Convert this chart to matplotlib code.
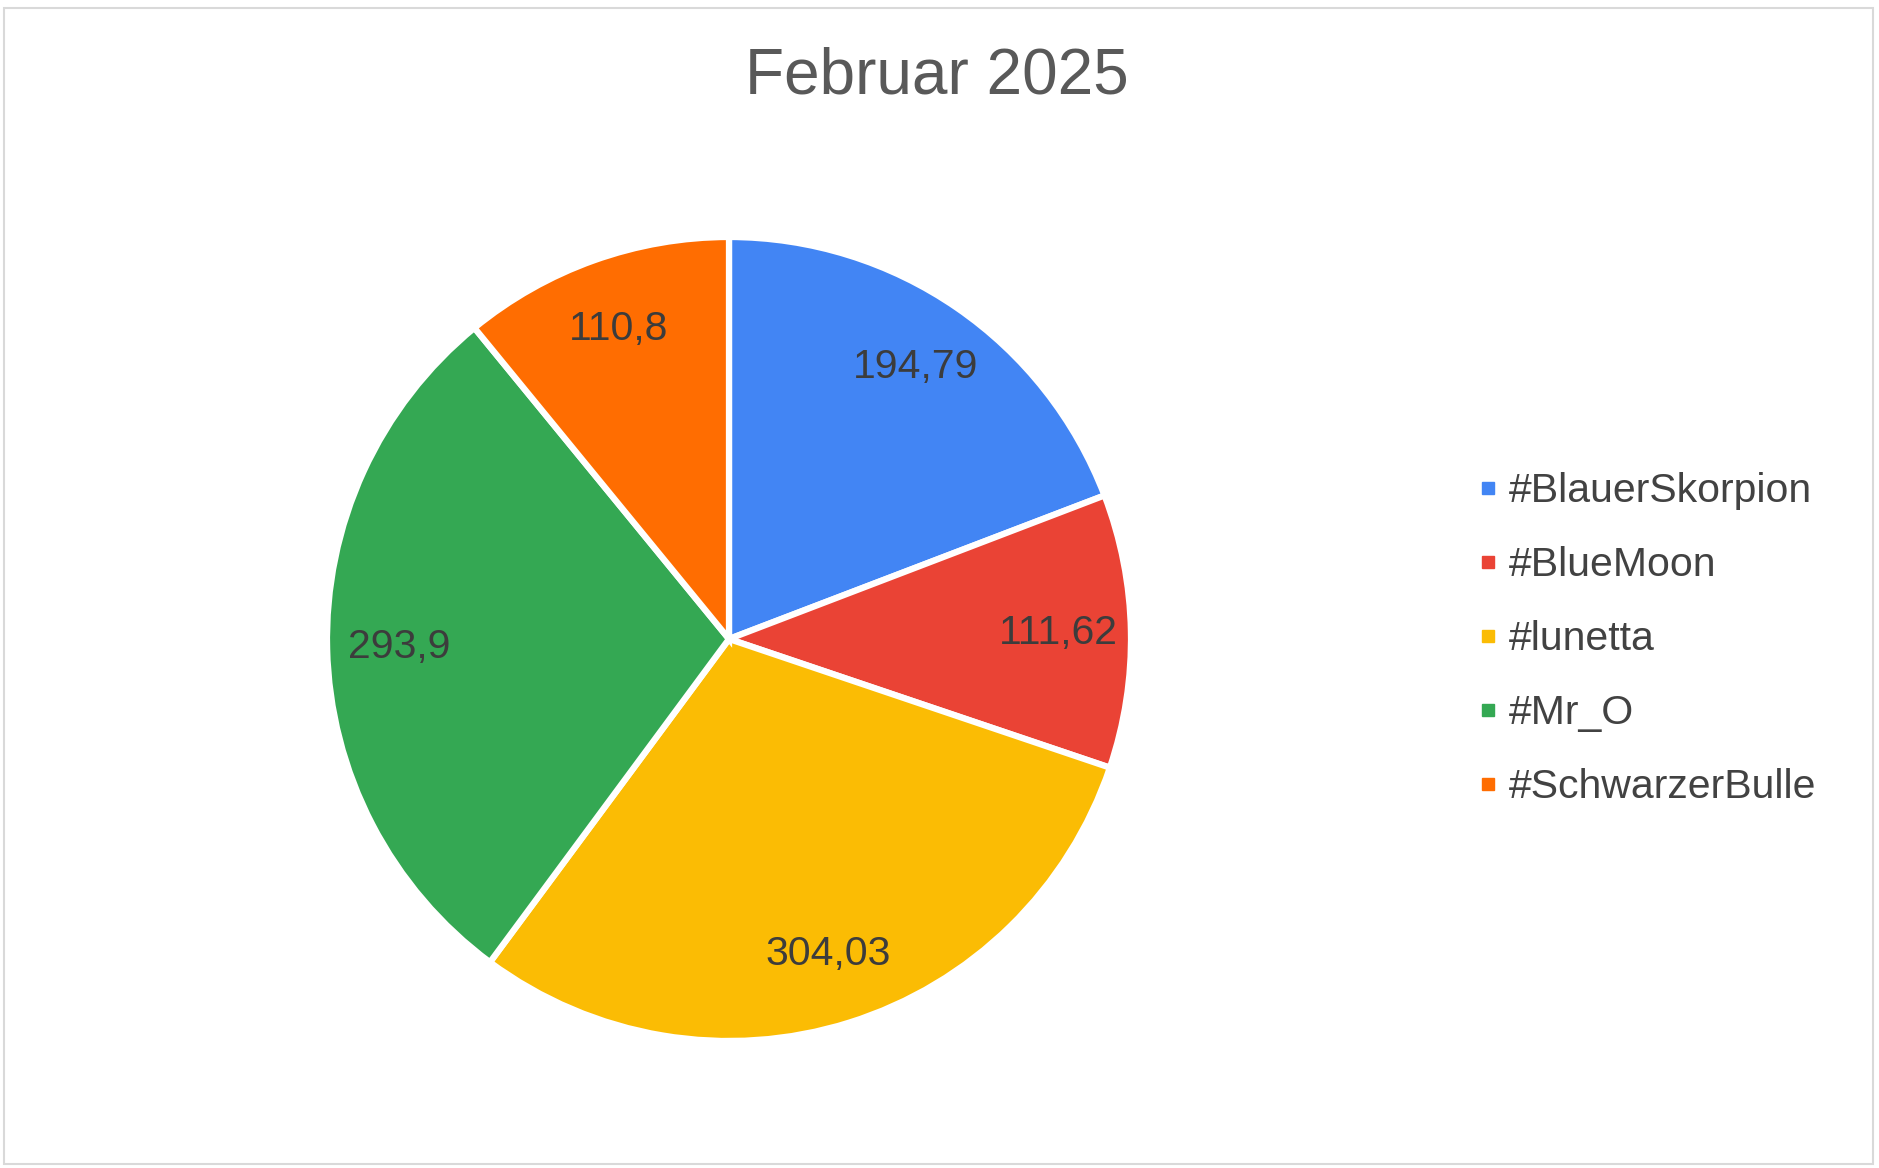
import matplotlib
matplotlib.use("Agg")
import matplotlib.pyplot as plt
from matplotlib.lines import Line2D
from matplotlib.patches import Rectangle

plt.rcParams['font.family'] = ['Liberation Sans', 'DejaVu Sans']

title = "Februar 2025"
names = ["#BlauerSkorpion", "#BlueMoon", "#lunetta", "#Mr_O", "#SchwarzerBulle"]
values = [194.79, 111.62, 304.03, 293.9, 110.8]
labels = ["194,79", "111,62", "304,03", "293,9", "110,8"]
colors = ["#4285F4", "#EA4335", "#FBBC04", "#34A853", "#FF6D01"]

W, H = 1879, 1168
fig = plt.figure(figsize=(W / 100, H / 100), dpi=100)

# pie: center (729, 639) px, radius ~402 px
cx, cy, r = 729, 639, 402
ax = fig.add_axes([(cx - r) / W, (H - cy - r) / H, 2 * r / W, 2 * r / H])
wedges, texts = ax.pie(values, colors=colors, startangle=90, counterclock=False,
                       labels=labels, labeldistance=0.82,
                       wedgeprops=dict(edgecolor='white', linewidth=4.5),
                       textprops=dict(fontsize=29.5, color='#3c3c3c',
                                      ha='center', va='center'))
for t in texts:
    t.set_ha('center')
    t.set_va('center')
ax.set_xlim(-1, 1)
ax.set_ylim(-1, 1)
ax.set_aspect('equal')

fig.text(937 / W, 1 - 76 / H, title, fontsize=46, color='#595959',
         ha='center', va='center')

handles = [Line2D([], [], marker='s', linestyle='', markersize=9,
                  markerfacecolor=c, markeredgecolor=c) for c in colors]
fig.legend(handles, names, loc='center left',
           bbox_to_anchor=(1478 / W, 1 - 639 / H), frameon=False,
           fontsize=29.5, labelcolor='#424242', handlelength=0.5,
           handletextpad=0.25, labelspacing=0.88, borderpad=0,
           borderaxespad=0)

fig.patches.append(Rectangle((4 / W, 4 / H), (W - 10) / W, (H - 12) / H,
                             transform=fig.transFigure, fill=False,
                             edgecolor='#d9d9d9', linewidth=1.5))

fig.savefig("out.png", dpi=100, facecolor='white')
